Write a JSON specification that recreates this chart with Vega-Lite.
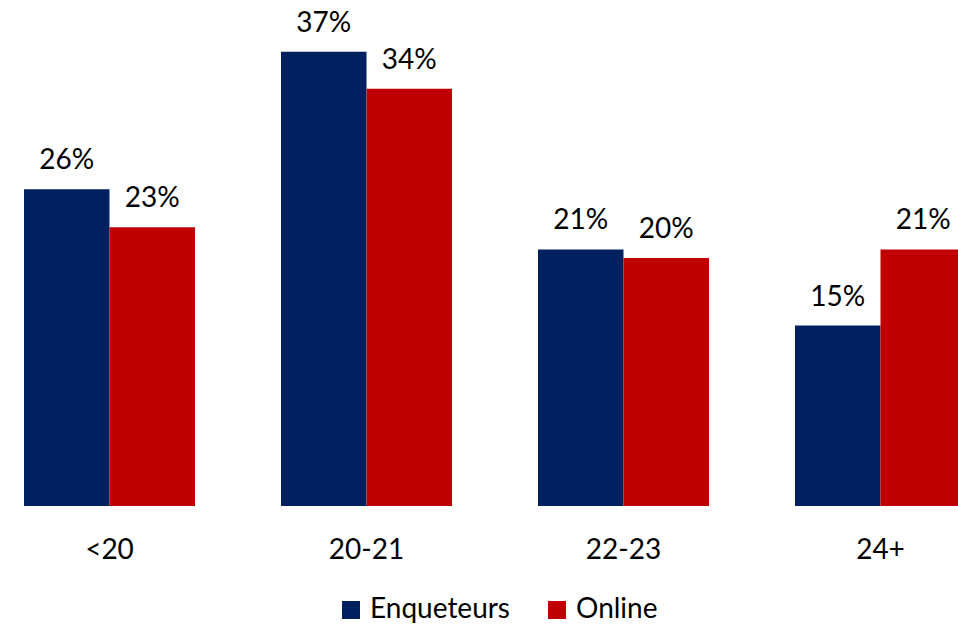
{
  "$schema": "https://vega.github.io/schema/vega-lite/v6.json",
  "width": 942,
  "height": 491,
  "autosize": {"type": "none"},
  "padding": {"left": 24, "top": 15, "right": 0, "bottom": 120},
  "background": "white",
  "config": {
    "view": {"stroke": null},
    "font": "Lato",
    "text": {"font": "Lato"}
  },
  "data": {
    "values": [
      {"age": "<20", "source": "Enqueteurs", "value": 0.258},
      {"age": "<20", "source": "Online", "value": 0.227},
      {"age": "20-21", "source": "Enqueteurs", "value": 0.370},
      {"age": "20-21", "source": "Online", "value": 0.340},
      {"age": "22-23", "source": "Enqueteurs", "value": 0.209},
      {"age": "22-23", "source": "Online", "value": 0.202},
      {"age": "24+", "source": "Enqueteurs", "value": 0.147},
      {"age": "24+", "source": "Online", "value": 0.209}
    ]
  },
  "encoding": {
    "x": {
      "field": "age",
      "type": "nominal",
      "sort": ["<20", "20-21", "22-23", "24+"],
      "scale": {"paddingInner": 0.3346, "paddingOuter": 0},
      "axis": {
        "title": null,
        "domain": false,
        "ticks": false,
        "tickSize": 0,
        "labelAngle": 0,
        "labelFont": "Lato",
        "labelFontSize": 28,
        "labelColor": "#000000",
        "labelBaseline": "alphabetic",
        "labelPadding": 52
      }
    },
    "xOffset": {"field": "source", "type": "nominal", "sort": ["Enqueteurs", "Online"]},
    "y": {
      "field": "value",
      "type": "quantitative",
      "scale": {"domain": [0, 0.4], "nice": false},
      "axis": null
    }
  },
  "layer": [
    {
      "mark": {"type": "bar"},
      "encoding": {
        "color": {
          "field": "source",
          "type": "nominal",
          "sort": ["Enqueteurs", "Online"],
          "scale": {"domain": ["Enqueteurs", "Online"], "range": ["#002060", "#C00000"]},
          "legend": {
            "title": null,
            "orient": "none",
            "direction": "horizontal",
            "legendX": 313,
            "legendY": 581,
            "padding": 0,
            "symbolType": "square",
            "symbolSize": 324,
            "symbolStrokeWidth": 0,
            "labelFont": "Lato",
            "labelFontSize": 28,
            "labelColor": "#000000",
            "labelOffset": 5,
            "columnPadding": 33
          }
        }
      }
    },
    {
      "mark": {"type": "text", "baseline": "alphabetic", "dy": -20, "fontSize": 28, "font": "Lato", "color": "#000000"},
      "encoding": {
        "text": {"field": "value", "type": "quantitative", "format": ".0%"}
      }
    }
  ]
}
